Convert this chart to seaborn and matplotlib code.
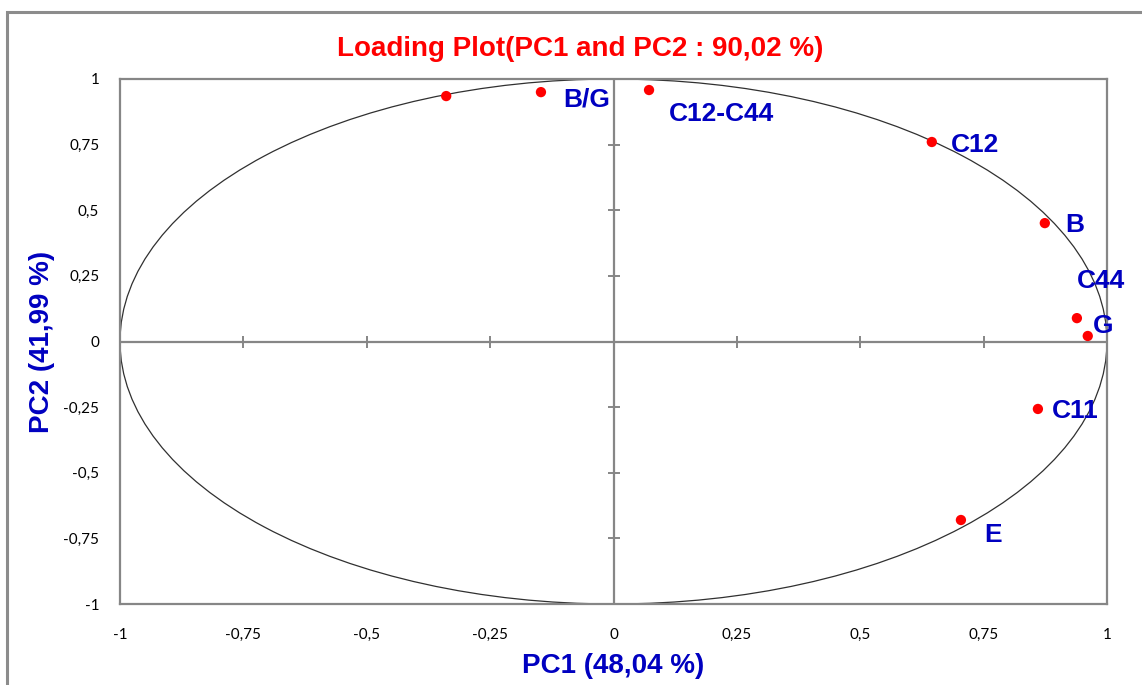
import matplotlib
matplotlib.use("Agg")
import matplotlib.pyplot as plt
import matplotlib.patches as mpatches
import seaborn as sns
import pandas as pd

# ---- data ----
pc1 = [-0.339, -0.147, 0.072, 0.645, 0.874, 0.939, 0.961, 0.860, 0.704]
pc2 = [0.935, 0.950, 0.958, 0.760, 0.451, 0.089, 0.021, -0.257, -0.680]
labels = ["", "B/G", "C12-C44", "C12", "B", "C44", "G", "C11", "E"]
ticks = [-1, -0.75, -0.5, -0.25, 0, 0.25, 0.5, 0.75, 1]
tick_labels = ["-1", "-0,75", "-0,5", "-0,25", "0", "0,25", "0,5", "0,75", "1"]
title = "Loading Plot(PC1 and PC2 : 90,02 %)"
xlabel = "PC1 (48,04 %)"
ylabel = "PC2 (41,99 %)"

# label offsets in points (style)
offsets = [(0, 0), (16, -5.5), (14, -17.5), (14, -2.5), (15, -1.5), (0, 26.5), (4, 7.5), (10, -1.5), (17, -10.5)]

df = pd.DataFrame({"pc1": pc1, "pc2": pc2, "label": labels})

sns.set_theme(style="white")
plt.rcParams["font.family"] = ["Liberation Sans", "DejaVu Sans"]

fig = plt.figure(figsize=(11.42, 6.85), dpi=100)
ax = fig.add_axes([120 / 1142, 1 - 604 / 685, 987 / 1142, 525 / 685])

grey = "#868686"
# outer frame of the figure
fig.patches.append(mpatches.Rectangle((7 / 1142, -0.1), 1.2, 1 - 12 / 685 + 0.1,
                                      transform=fig.transFigure, fill=False,
                                      edgecolor="#8c8c8c", linewidth=2.2, zorder=0))

# unit circle (appears as ellipse)
ax.add_patch(mpatches.Circle((0, 0), 1, fill=False, edgecolor="#303030", linewidth=0.9, zorder=2))

# center cross
ax.axhline(0, color=grey, linewidth=1.6, zorder=1)
ax.axvline(0, color=grey, linewidth=1.6, zorder=1)
# tick marks on center lines
tk = [t for t in ticks if t != 0]
ax.plot(tk, [0] * len(tk), linestyle="none", marker="|", markersize=9,
        markeredgewidth=1.4, color=grey, zorder=1)
ax.plot([0] * len(tk), tk, linestyle="none", marker="_", markersize=9,
        markeredgewidth=1.4, color=grey, zorder=1)

sns.scatterplot(data=df, x="pc1", y="pc2", ax=ax, color="#ff0000", s=55,
                edgecolor="none", zorder=3, legend=False)

for (x, y, lab), (dx, dy) in zip(zip(pc1, pc2, labels), offsets):
    if lab:
        ax.annotate(lab, (x, y), xytext=(dx, dy), textcoords="offset points",
                    ha="left", va="center", color="#0000c0", fontsize=19,
                    fontweight="bold", zorder=4, annotation_clip=False)

ax.set_xlim(-1, 1)
ax.set_ylim(-1, 1)
ax.set_xticks(ticks)
ax.set_yticks(ticks)
ax.set_xticklabels(tick_labels, fontfamily="Lato", fontsize=11)
ax.set_yticklabels(tick_labels, fontfamily="Lato", fontsize=11)
ax.tick_params(axis="both", length=0, colors="black")
ax.tick_params(axis="x", pad=17)
ax.tick_params(axis="y", pad=15)
for s in ax.spines.values():
    s.set_color(grey)
    s.set_linewidth(1.6)

ax.set_xlabel(xlabel, color="#0000c0", fontsize=20, fontweight="bold", labelpad=8)
ax.set_ylabel(ylabel, color="#0000c0", fontsize=20, fontweight="bold", labelpad=6)
fig.text(580 / 1142, 1 - 49 / 685, title, ha="center", va="center",
         color="#ff0000", fontsize=20, fontweight="bold")

fig.savefig("out.png", dpi=100, facecolor="white")
